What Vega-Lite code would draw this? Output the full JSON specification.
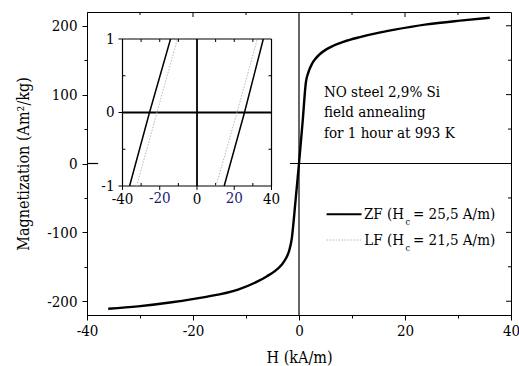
{
  "$schema": "https://vega.github.io/schema/vega-lite/v6.json",
  "width": 424,
  "height": 303,
  "autosize": {"type": "none"},
  "padding": {"left": 87, "top": 12, "right": 8, "bottom": 51},
  "background": "white",
  "config": {
    "view": {"stroke": "black", "strokeWidth": 1},
    "font": "DejaVu Serif Condensed, DejaVu Serif",
    "axis": {
      "grid": false,
      "labelFont": "DejaVu Serif Condensed, DejaVu Serif",
      "labelFontSize": 15,
      "labelColor": "black",
      "titleFont": "DejaVu Serif Condensed, DejaVu Serif",
      "titleFontSize": 16,
      "titleFontWeight": "normal",
      "titleColor": "black",
      "tickColor": "black",
      "domainColor": "black",
      "labelFlush": false,
      "labelOverlap": false
    }
  },
  "datasets": {
    "curve": [
      {"H": -36, "M": -211}, {"H": -30.4, "M": -207.5}, {"H": -24, "M": -201.5},
      {"H": -17.8, "M": -194}, {"H": -11.5, "M": -183}, {"H": -8, "M": -172},
      {"H": -6.1, "M": -164}, {"H": -4.5, "M": -156}, {"H": -3.27, "M": -147},
      {"H": -2.4, "M": -137}, {"H": -1.83, "M": -126}, {"H": -1.4, "M": -111},
      {"H": -0.7, "M": -58}, {"H": 0, "M": 0}, {"H": 0.7, "M": 62},
      {"H": 1.3, "M": 118}, {"H": 1.8, "M": 133}, {"H": 2.4, "M": 144},
      {"H": 3.1, "M": 152}, {"H": 3.96, "M": 159}, {"H": 5, "M": 165},
      {"H": 6.47, "M": 171}, {"H": 8.5, "M": 177}, {"H": 11.5, "M": 183.5},
      {"H": 14.5, "M": 189}, {"H": 17.8, "M": 194}, {"H": 24.1, "M": 202},
      {"H": 30.4, "M": 207.5}, {"H": 36, "M": 211.7}
    ],
    "mainRules": [
      {"H": 0, "H2": 0, "M": -220, "M2": 220, "w": 1.2},
      {"H": -40, "H2": -37.9, "M": 0, "M2": 0, "w": 1.2},
      {"H": -1.7, "H2": 40, "M": 0, "M2": 0, "w": 1.2},
      {"H": -30, "H2": -30, "M": 220, "M2": 215.6, "w": 1},
      {"H": -20, "H2": -20, "M": 220, "M2": 212.7, "w": 1},
      {"H": -10, "H2": -10, "M": 220, "M2": 215.6, "w": 1},
      {"H": 10, "H2": 10, "M": 220, "M2": 215.6, "w": 1},
      {"H": 20, "H2": 20, "M": 220, "M2": 212.7, "w": 1},
      {"H": 30, "H2": 30, "M": 220, "M2": 215.6, "w": 1},
      {"H": 40, "H2": 39.06, "M": 200, "M2": 200, "w": 1},
      {"H": 40, "H2": 39.43, "M": 150, "M2": 150, "w": 1},
      {"H": 40, "H2": 39.06, "M": 100, "M2": 100, "w": 1},
      {"H": 40, "H2": 39.43, "M": 50, "M2": 50, "w": 1},
      {"H": 40, "H2": 39.43, "M": -50, "M2": -50, "w": 1},
      {"H": 40, "H2": 39.06, "M": -100, "M2": -100, "w": 1},
      {"H": 40, "H2": 39.43, "M": -150, "M2": -150, "w": 1},
      {"H": 40, "H2": 39.06, "M": -200, "M2": -200, "w": 1}
    ],
    "annot": [
      {"H": 4.7, "M": 97, "txt": "NO steel 2,9% Si"},
      {"H": 4.7, "M": 67, "txt": "field annealing"},
      {"H": 4.7, "M": 37, "txt": "for 1 hour at 993 K"},
      {"H": 21.5, "M": -81, "txt": "= 25,5 A/m)"},
      {"H": 21.5, "M": -118.4, "txt": "= 21,5 A/m)"}
    ],
    "annotRight": [
      {"H": 19.8, "M": -81, "txt": "ZF (H"},
      {"H": 19.8, "M": -118.4, "txt": "LF (H"}
    ],
    "subs": [
      {"H": 20.1, "M": -89.5, "txt": "c"},
      {"H": 20.1, "M": -127, "txt": "c"}
    ],
    "legendLines": [
      {"H": 5.2, "H2": 11.8, "M": -73.8, "M2": -73.8, "s": "ZF"},
      {"H": 5.2, "H2": 11.8, "M": -111.1, "M2": -111.1, "s": "LF"}
    ],
    "inset": [
      {"h": -36.2, "m": -1, "s": "ZF-L", "t": "ZF"},
      {"h": -25.5, "m": 0, "s": "ZF-L", "t": "ZF"},
      {"h": -14.2, "m": 1, "s": "ZF-L", "t": "ZF"},
      {"h": 14.6, "m": -1, "s": "ZF-R", "t": "ZF"},
      {"h": 25.5, "m": 0, "s": "ZF-R", "t": "ZF"},
      {"h": 35.6, "m": 1, "s": "ZF-R", "t": "ZF"},
      {"h": -32.4, "m": -1, "s": "LF-L", "t": "LF"},
      {"h": -21.5, "m": 0, "s": "LF-L", "t": "LF"},
      {"h": -10.5, "m": 1, "s": "LF-L", "t": "LF"},
      {"h": 10.2, "m": -1, "s": "LF-R", "t": "LF"},
      {"h": 21.5, "m": 0, "s": "LF-R", "t": "LF"},
      {"h": 32.4, "m": 1, "s": "LF-R", "t": "LF"}
    ],
    "insetFrame": [
      {"h": -40, "h2": 40, "m": 1, "m2": 1, "w": 1.2},
      {"h": -40, "h2": 40, "m": -1, "m2": -1, "w": 1.2},
      {"h": -40, "h2": -40, "m": -1, "m2": 1, "w": 1.2},
      {"h": 40, "h2": 40, "m": -1, "m2": 1, "w": 1.2},
      {"h": -40, "h2": 40, "m": 0, "m2": 0, "w": 1.8},
      {"h": 0, "h2": 0, "m": -1, "m2": 1, "w": 1.8},
      {"h": -40, "h2": -40, "m": -1, "m2": -1.054, "w": 1},
      {"h": -20, "h2": -20, "m": -1, "m2": -1.054, "w": 1},
      {"h": 0, "h2": 0, "m": -1, "m2": -1.054, "w": 1},
      {"h": 20, "h2": 20, "m": -1, "m2": -1.054, "w": 1},
      {"h": 40, "h2": 40, "m": -1, "m2": -1.054, "w": 1},
      {"h": -30, "h2": -30, "m": -1, "m2": -0.959, "w": 1},
      {"h": -10, "h2": -10, "m": -1, "m2": -0.959, "w": 1},
      {"h": 10, "h2": 10, "m": -1, "m2": -0.959, "w": 1},
      {"h": 30, "h2": 30, "m": -1, "m2": -0.959, "w": 1},
      {"h": -30, "h2": -30, "m": 1, "m2": 0.959, "w": 1},
      {"h": -20, "h2": -20, "m": 1, "m2": 0.959, "w": 1},
      {"h": -10, "h2": -10, "m": 1, "m2": 0.959, "w": 1},
      {"h": 10, "h2": 10, "m": 1, "m2": 0.959, "w": 1},
      {"h": 20, "h2": 20, "m": 1, "m2": 0.959, "w": 1},
      {"h": 30, "h2": 30, "m": 1, "m2": 0.959, "w": 1},
      {"h": -40, "h2": -42.15, "m": 1, "m2": 1, "w": 1},
      {"h": -40, "h2": -42.15, "m": 0, "m2": 0, "w": 1},
      {"h": -40, "h2": -42.15, "m": -1, "m2": -1, "w": 1},
      {"h": -40, "h2": -38.39, "m": 0.5, "m2": 0.5, "w": 1},
      {"h": -40, "h2": -38.39, "m": -0.5, "m2": -0.5, "w": 1},
      {"h": 40, "h2": 38.39, "m": 0.5, "m2": 0.5, "w": 1},
      {"h": 40, "h2": 38.39, "m": -0.5, "m2": -0.5, "w": 1}
    ],
    "insetXLabelsA": [
      {"h": -40, "m": -1, "txt": "-40"},
      {"h": 0, "m": -1, "txt": "0"},
      {"h": 40, "m": -1, "txt": "40"}
    ],
    "insetXLabelsB": [
      {"h": -20, "m": -1.16, "txt": "-20"},
      {"h": 20, "m": -1.16, "txt": "20"}
    ],
    "insetYLabels": [
      {"h": -40, "m": 1, "txt": "1"},
      {"h": -40, "m": 0, "txt": "0"},
      {"h": -40, "m": -1, "txt": "-1"}
    ]
  },
  "layer": [
    {
      "encoding": {
        "x": {
          "field": "H", "type": "quantitative",
          "scale": {"domain": [-40, 40], "nice": false, "zero": false},
          "axis": {
            "orient": "bottom",
            "title": "H (kA/m)",
            "values": [-40, -30, -20, -10, 0, 10, 20, 30, 40],
            "labelExpr": "datum.value % 20 === 0 ? '' + datum.value : ''",
            "tickSize": {"condition": {"test": "datum.value % 20 !== 0", "value": 3}, "value": 5},
            "labelPadding": 3,
            "titlePadding": 11
          }
        },
        "y": {
          "field": "M", "type": "quantitative",
          "scale": {"domain": [-220, 220], "nice": false, "zero": false},
          "axis": {
            "orient": "left",
            "title": "Magnetization (Am²/kg)",
            "values": [-200, -150, -100, -50, 0, 50, 100, 150, 200],
            "labelExpr": "datum.value % 100 === 0 ? '' + datum.value : ''",
            "tickSize": {"condition": {"test": "datum.value % 100 !== 0", "value": 3}, "value": 5},
            "labelPadding": 5,
            "titlePadding": 15
          }
        }
      },
      "layer": [
        {
          "data": {"name": "mainRules"},
          "mark": {"type": "rule", "color": "black"},
          "encoding": {"x2": {"field": "H2"}, "y2": {"field": "M2"}, "strokeWidth": {"field": "w", "type": "quantitative", "scale": null}}
        },
        {
          "data": {"name": "curve"},
          "mark": {"type": "line", "color": "black", "strokeWidth": 2.4, "interpolate": "monotone"},
          "encoding": {"order": {"field": "H", "type": "quantitative"}}
        },
        {
          "data": {"name": "legendLines"},
          "mark": {"type": "rule"},
          "encoding": {
            "x2": {"field": "H2"}, "y2": {"field": "M2"},
            "color": {"field": "s", "type": "nominal", "scale": {"domain": ["ZF", "LF"], "range": ["black", "#b8b8b8"]}, "legend": null},
            "strokeDash": {"field": "s", "type": "nominal", "scale": {"domain": ["ZF", "LF"], "range": [[1, 0], [1.5, 1.5]]}, "legend": null},
            "strokeWidth": {"field": "s", "type": "nominal", "scale": {"domain": ["ZF", "LF"], "range": [2, 1]}, "legend": null}
          }
        },
        {
          "data": {"name": "annot"},
          "mark": {"type": "text", "align": "left", "baseline": "alphabetic", "fontSize": 15, "font": "DejaVu Serif Condensed, DejaVu Serif", "color": "black"},
          "encoding": {"text": {"field": "txt"}}
        },
        {
          "data": {"name": "annotRight"},
          "mark": {"type": "text", "align": "right", "baseline": "alphabetic", "fontSize": 15, "font": "DejaVu Serif Condensed, DejaVu Serif", "color": "black"},
          "encoding": {"text": {"field": "txt"}}
        },
        {
          "data": {"name": "subs"},
          "mark": {"type": "text", "align": "left", "baseline": "alphabetic", "fontSize": 9, "font": "DejaVu Serif Condensed, DejaVu Serif", "color": "black"},
          "encoding": {"text": {"field": "txt"}}
        }
      ]
    },
    {
      "encoding": {
        "x": {
          "field": "h", "type": "quantitative",
          "scale": {"domain": [-59.06, 168.59], "nice": false, "zero": false},
          "axis": null
        },
        "y": {
          "field": "m", "type": "quantitative",
          "scale": {"domain": [-2.755, 1.367], "nice": false, "zero": false},
          "axis": null
        }
      },
      "layer": [
        {
          "data": {"name": "insetFrame"},
          "mark": {"type": "rule", "color": "black"},
          "encoding": {"x2": {"field": "h2"}, "y2": {"field": "m2"}, "strokeWidth": {"field": "w", "type": "quantitative", "scale": null}}
        },
        {
          "data": {"name": "inset"},
          "transform": [{"filter": "datum.t === 'LF'"}],
          "mark": {"type": "line", "color": "#b8b8b8", "strokeWidth": 1, "strokeDash": [1.5, 1.5]},
          "encoding": {"detail": {"field": "s"}, "order": {"field": "m", "type": "quantitative"}}
        },
        {
          "data": {"name": "inset"},
          "transform": [{"filter": "datum.t === 'ZF'"}],
          "mark": {"type": "line", "color": "black", "strokeWidth": 1.5},
          "encoding": {"detail": {"field": "s"}, "order": {"field": "m", "type": "quantitative"}}
        },
        {
          "data": {"name": "insetXLabelsA"},
          "mark": {"type": "text", "align": "center", "baseline": "top", "dy": 6, "fontSize": 15, "font": "DejaVu Serif Condensed, DejaVu Serif", "color": "black"},
          "encoding": {"text": {"field": "txt"}}
        },
        {
          "data": {"name": "insetXLabelsB"},
          "mark": {"type": "text", "align": "center", "baseline": "middle", "fontSize": 15, "font": "DejaVu Serif Condensed, DejaVu Serif", "color": "#1c1c6e"},
          "encoding": {"text": {"field": "txt"}}
        },
        {
          "data": {"name": "insetYLabels"},
          "mark": {"type": "text", "align": "right", "baseline": "middle", "dx": -8, "fontSize": 15, "font": "DejaVu Serif Condensed, DejaVu Serif", "color": "black"},
          "encoding": {"text": {"field": "txt"}}
        }
      ]
    }
  ],
  "resolve": {
    "scale": {"x": "independent", "y": "independent"},
    "axis": {"x": "independent", "y": "independent"}
  }
}
